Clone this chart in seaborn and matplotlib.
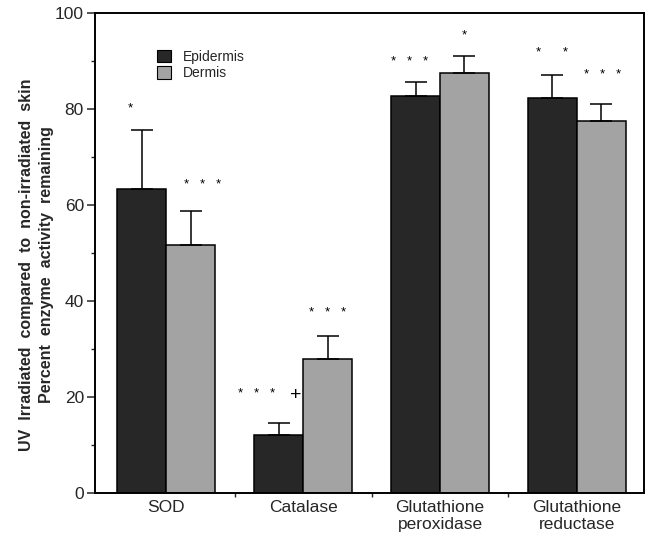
import matplotlib
matplotlib.use("Agg")
import matplotlib.pyplot as plt
import seaborn as sns
import pandas as pd
import numpy as np
from matplotlib.ticker import MultipleLocator, FixedLocator
from matplotlib.patches import Patch

categories = ["SOD", "Catalase", "Glutathione\nperoxidase", "Glutathione\nreductase"]
series = ["Epidermis", "Dermis"]
epidermis = [63.4, 12.1, 82.8, 82.2]
dermis = [51.7, 28.0, 87.4, 77.5]
epidermis_err = [12.2, 2.5, 2.8, 4.8]
dermis_err = [7.1, 4.8, 3.6, 3.6]
epidermis_sig = ["*", "*   *   *", "*   *   *", "*      *"]
dermis_sig = ["*   *   *", "*   *   *", "*", "*   *   *"]
epidermis_sig_y = [80.2, 20.6, 89.7, 91.6]
dermis_sig_y = [64.1, 37.5, 95.3, 87.0]
y_ticks = [0, 20, 40, 60, 80, 100]

df = pd.DataFrame({
    "category": categories * 2,
    "tissue": ["Epidermis"] * 4 + ["Dermis"] * 4,
    "value": epidermis + dermis,
})

sns.set_theme(style="white")
plt.rcParams["font.family"] = ["Liberation Sans", "DejaVu Sans"]

colors = {"Epidermis": "#272727", "Dermis": "#a3a3a3"}

fig = plt.figure(figsize=(6.52, 5.4), dpi=100)
ax = fig.add_axes([95 / 652, 1 - 493 / 540, (644 - 95) / 652, (493 - 13) / 540])

sns.barplot(data=df, x="category", y="value", hue="tissue", order=categories,
            hue_order=series, palette=colors, width=0.715, errorbar=None,
            edgecolor="black", linewidth=1.1, ax=ax, legend=False, saturation=1)

bars = [p for p in ax.patches if p.get_height() > 0]
errs = epidermis_err + dermis_err
sigs = epidermis_sig + dermis_sig
sig_y = epidermis_sig_y + dermis_sig_y
offsets = [-0.08, -0.16, -0.04, 0.0, 0.09, 0.0, 0.0, 0.01]
for i, b in enumerate(bars):
    xc = b.get_x() + b.get_width() / 2
    h = b.get_height()
    ax.errorbar([xc], [h], yerr=[[0], [errs[i]]], fmt="none", ecolor="black",
                elinewidth=1.1, capsize=8, capthick=1.1)
    ax.text(xc + offsets[i], sig_y[i], sigs[i], ha="center", va="center",
            fontsize=9.5, color="black")
# plus sign next to catalase epidermis stars
cat_bar = bars[1]
ax.text(cat_bar.get_x() + cat_bar.get_width() * 0.85, epidermis_sig_y[1] - 0.3, "+",
        ha="center", va="center", fontsize=14, color="black")

ax.set_ylim(0, 100)
ax.set_xlim(-0.52, 3.49)
ax.yaxis.set_major_locator(FixedLocator(y_ticks))
ax.yaxis.set_minor_locator(MultipleLocator(10))
ax.set_yticklabels([str(t) for t in y_ticks], fontsize=12.5)
ax.tick_params(axis="y", which="major", direction="out", length=6, width=1.1, left=True, pad=2)
ax.tick_params(axis="y", which="minor", direction="out", length=3, width=1.0, left=True)
ax.set_xticks(range(len(categories)))
ax.set_xticklabels(categories, fontsize=12.5)
ax.tick_params(axis="x", which="major", length=0, pad=5)
ax.xaxis.set_minor_locator(FixedLocator([0.5, 1.5, 2.5]))
ax.tick_params(axis="x", which="minor", direction="out", length=3, width=1.0, bottom=True)
ax.set_xlabel("")
ax.set_ylabel("")
for s in ax.spines.values():
    s.set_visible(True)
    s.set_color("black")
    s.set_linewidth(1.4)

handles = [Patch(facecolor=colors[s], edgecolor="black", linewidth=0.8) for s in series]
ax.legend(handles, series, loc="upper left", bbox_to_anchor=(0.09, 0.95), frameon=False,
          fontsize=10, handlelength=1.0, handleheight=1.0, handletextpad=0.9,
          labelspacing=0.2)

fig.text(27 / 652, 1 - 265 / 540,
         "UV  Irradiated  compared  to  non-irradiated  skin",
         rotation=90, ha="center", va="center", fontsize=11.5, fontweight="bold")
fig.text(47 / 652, 1 - 265 / 540,
         "Percent  enzyme  activity  remaining",
         rotation=90, ha="center", va="center", fontsize=11.5, fontweight="bold")

fig.savefig("out.png", dpi=100)
